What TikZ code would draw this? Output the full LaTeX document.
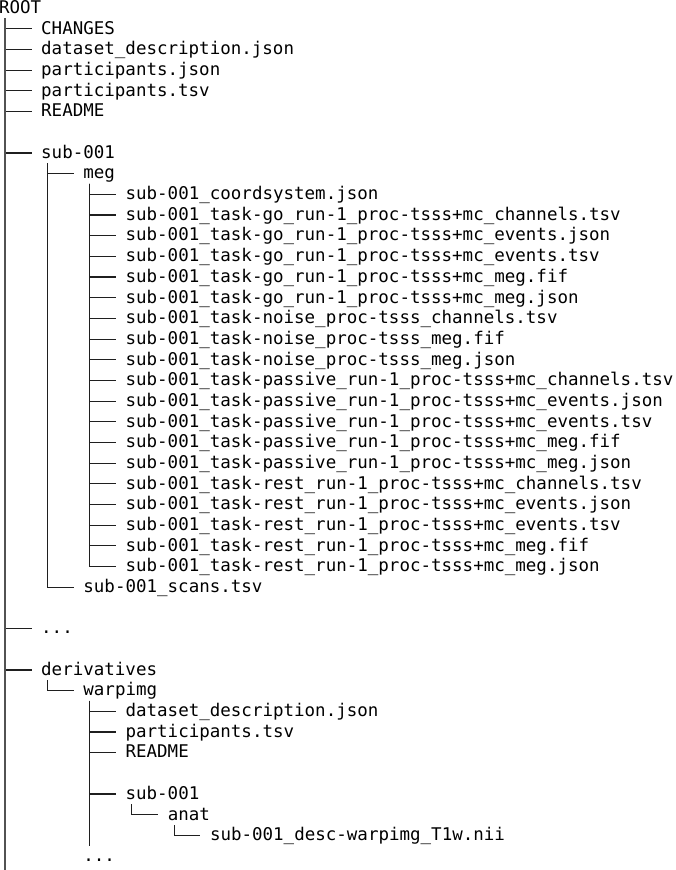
\documentclass[tikz,border=0pt]{standalone}
\usepackage{fontspec}
\usetikzlibrary{calc}
\newfontfamily\treefont{DejaVu Sans Mono}
\newcommand\tentry[4]{\node[entry] (#1) at ({10.55*#2-1},{13.5+20.68*#3}) {#4};}
\newcommand\tbranch[2]{\draw[treeline] ($(#1.base west)+(6.27,5)$) |- ($(#2.base west)+(-9.55,-5.3)$);}
\tikzset{
  entry/.style={anchor=base west, inner sep=0pt, outer sep=0pt, font=\fontsize{17.5}{20}\treefont, text=black},
  treeline/.style={draw=black!88, line width=1.1pt},
  rootline/.style={draw=black!68, line width=1.7pt}
}
\begin{document}
\begin{tikzpicture}[x=1pt,y=-1pt]
\useasboundingbox (0,0) rectangle (675,870);
% root level
\tentry{root}{0}{0}{ROOT}
\tentry{r1}{4}{1}{CHANGES}
\tentry{r2}{4}{2}{dataset\_description.json}
\tentry{r3}{4}{3}{participants.json}
\tentry{r4}{4}{4}{participants.tsv}
\tentry{r5}{4}{5}{README}
\tentry{sub}{4}{7}{sub-001}
\tentry{meg}{8}{8}{meg}
\foreach \f [count=\i] in {
  sub-001\_coordsystem.json,
  sub-001\_task-go\_run-1\_proc-tsss+mc\_channels.tsv,
  sub-001\_task-go\_run-1\_proc-tsss+mc\_events.json,
  sub-001\_task-go\_run-1\_proc-tsss+mc\_events.tsv,
  sub-001\_task-go\_run-1\_proc-tsss+mc\_meg.fif,
  sub-001\_task-go\_run-1\_proc-tsss+mc\_meg.json,
  sub-001\_task-noise\_proc-tsss\_channels.tsv,
  sub-001\_task-noise\_proc-tsss\_meg.fif,
  sub-001\_task-noise\_proc-tsss\_meg.json,
  sub-001\_task-passive\_run-1\_proc-tsss+mc\_channels.tsv,
  sub-001\_task-passive\_run-1\_proc-tsss+mc\_events.json,
  sub-001\_task-passive\_run-1\_proc-tsss+mc\_events.tsv,
  sub-001\_task-passive\_run-1\_proc-tsss+mc\_meg.fif,
  sub-001\_task-passive\_run-1\_proc-tsss+mc\_meg.json,
  sub-001\_task-rest\_run-1\_proc-tsss+mc\_channels.tsv,
  sub-001\_task-rest\_run-1\_proc-tsss+mc\_events.json,
  sub-001\_task-rest\_run-1\_proc-tsss+mc\_events.tsv,
  sub-001\_task-rest\_run-1\_proc-tsss+mc\_meg.fif,
  sub-001\_task-rest\_run-1\_proc-tsss+mc\_meg.json}
{
  \pgfmathtruncatemacro\rw{8+\i}
  \tentry{m\i}{12}{\rw}{\f}
  \tbranch{meg}{m\i}
}
\tentry{scans}{8}{28}{sub-001\_scans.tsv}
\tentry{dots1}{4}{30}{...}
\tentry{deriv}{4}{32}{derivatives}
\tentry{warp}{8}{33}{warpimg}
\tentry{w1}{12}{34}{dataset\_description.json}
\tentry{w2}{12}{35}{participants.tsv}
\tentry{w3}{12}{36}{README}
\tentry{wsub}{12}{38}{sub-001}
\tentry{anat}{16}{39}{anat}
\tentry{t1w}{20}{40}{sub-001\_desc-warpimg\_T1w.nii}
\tentry{dots2}{8}{41}{...}
% connectors
\foreach \c in {r1,r2,r3,r4,r5,sub,dots1,deriv} {\tbranch{root}{\c}}
\tbranch{sub}{meg}
\tbranch{sub}{scans}
\tbranch{deriv}{warp}
\foreach \c in {w1,w2,w3,wsub} {\tbranch{warp}{\c}}
\tbranch{wsub}{anat}
\tbranch{anat}{t1w}
\coordinate (wend) at ($(warp.base west)+(6.27,{5+20.68*7})$);
\draw[treeline] ($(warp.base west)+(6.27,5)$) -- (wend);
\coordinate (rootend) at ($(root.base west)+(6.27,{870-13.5})$);
\draw[rootline] ($(root.base west)+(6.27,4.5)$) -- (rootend);
\end{tikzpicture}
\end{document}
